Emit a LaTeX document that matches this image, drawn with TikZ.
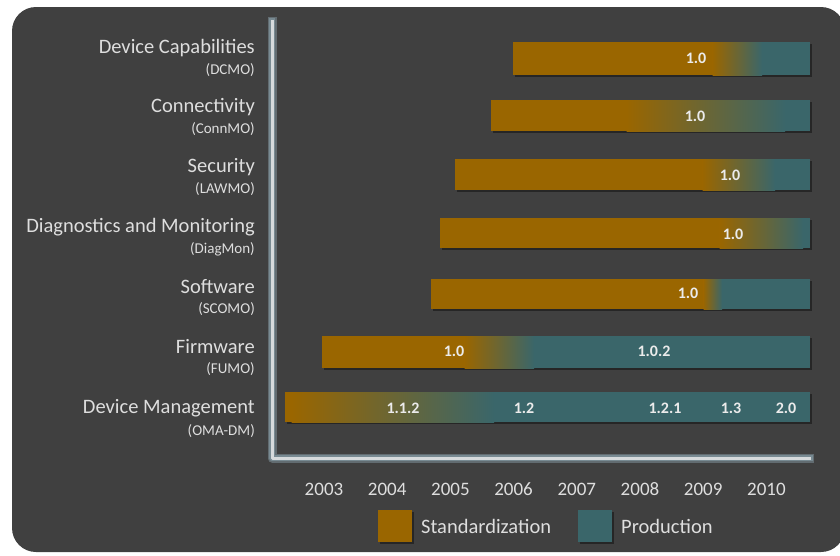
\documentclass[tikz,border=0pt]{standalone}
\usepackage{fontspec}
\setmainfont{Carlito}
\definecolor{panel}{RGB}{64,64,64}
\definecolor{stdcol}{RGB}{154,102,0}
\definecolor{prodcol}{RGB}{58,102,106}
\definecolor{axisglow}{RGB}{120,138,146}
\definecolor{axisline}{RGB}{214,218,220}
\definecolor{labtext}{RGB}{222,222,222}
\tikzset{
  area/.style={font=\fontsize{20.5}{21}\selectfont, text=labtext, anchor=east, inner sep=0pt},
  abbr/.style={font=\fontsize{15}{15}\selectfont, text=labtext, anchor=east, inner sep=0pt},
  ver/.style={font=\fontsize{16}{16}\selectfont\bfseries, text=white!92!black, inner sep=0pt},
  year/.style={font=\fontsize{19}{19}\selectfont, text=labtext, inner sep=0pt},
  legtext/.style={font=\fontsize{20.5}{21}\selectfont, text=labtext, inner sep=0pt, anchor=west},
  shadow/.style={fill=black!80!panel}
}
\begin{document}
\begin{tikzpicture}[x=1pt,y=1pt]
  \useasboundingbox (0,0) rectangle (840,-555);
  \fill[white] (0,0) rectangle (840,-555);
  \fill[panel, rounded corners=24pt] (12,-7) rectangle (845,-552);
  % axes
  \draw[axisglow!60!panel, line width=9pt, line join=round] (272,-17) -- (272,-458) -- (814,-458);
  \draw[axisglow, line width=6pt, line join=round] (272,-18) -- (272,-458) -- (813,-458);
  \draw[axisline, line width=3pt, line join=round] (272,-20) -- (272,-458) -- (811,-458);
  % bars: top, bottom, left end, gradient from .. to
  \foreach \t/\b/\l/\gs/\ge in {42/75/513/713/762, 100/131/491/627/785, 159/190/455/703/775,
                               218/248/440/720/803, 279/309/431/704/722, 336/368/322/465/534,
                               392/422/285/292/494} {
    \fill[shadow, opacity=0.5] (\l+1.5,-\t-1.5) rectangle (811.5,-\b-1.5);
    \fill[stdcol] (\l,-\t) rectangle (\gs,-\b);
    \fill[prodcol] (\ge-0.5,-\t) rectangle (810,-\b);
    \begin{scope}
      \clip (\gs-0.5,-\t) rectangle (\ge,-\b);
      \shade[left color=stdcol, right color=prodcol] (\gs-0.5,-\t+6) rectangle (\ge,-\b-6);
    \end{scope}
  }
  % labels on the left
  \node[area] (dcmo) at (255,-48) {Device Capabilities};
  \node[abbr] (dcmoab) at (255,-70) {(DCMO)};
  \node[area] (conn) at (255,-107) {Connectivity};
  \node[abbr] (connab) at (255,-129) {(ConnMO)};
  \node[area] (sec) at (255,-167) {Security};
  \node[abbr] (secab) at (255,-189) {(LAWMO)};
  \node[area] (diag) at (255,-227) {Diagnostics and Monitoring};
  \node[abbr] (diagab) at (255,-249) {(DiagMon)};
  \node[area] (soft) at (255,-287) {Software};
  \node[abbr] (softab) at (255,-309) {(SCOMO)};
  \node[area] (firm) at (255,-347) {Firmware};
  \node[abbr] (firmab) at (255,-369) {(FUMO)};
  \node[area] (dm) at (255,-408) {Device Management};
  \node[abbr] (dmab) at (255,-431) {(OMA-DM)};
  % versions
  \node[ver] (v1) at (696,-58) {1.0};
  \node[ver] (v2) at (695,-116) {1.0};
  \node[ver] (v3) at (730,-175) {1.0};
  \node[ver] (v4) at (733,-234) {1.0};
  \node[ver] (v5) at (688,-293) {1.0};
  \node[ver] (v6a) at (454,-351) {1.0};
  \node[ver] (v6b) at (654,-351) {1.0.2};
  \node[ver] (v7a) at (403,-408) {1.1.2};
  \node[ver] (v7b) at (524,-408) {1.2};
  \node[ver] (v7c) at (665,-408) {1.2.1};
  \node[ver] (v7d) at (731,-408) {1.3};
  \node[ver] (v7e) at (786,-408) {2.0};
  % years
  \foreach \yr [count=\i from 0] in {2003,...,2010}
    \node[year] (y\yr) at (324+63.2*\i,-489) {\yr};
  % legend
  \fill[shadow, opacity=0.5] (380,-512) rectangle (414,-544);
  \fill[stdcol] (378,-510) rectangle (412,-542);
  \node[legtext] (lstd) at (421,-526) {Standardization};
  \fill[shadow, opacity=0.5] (580,-512) rectangle (614,-544);
  \fill[prodcol] (578,-510) rectangle (612,-542);
  \node[legtext] (lprod) at (621,-526) {Production};
\end{tikzpicture}
\end{document}
